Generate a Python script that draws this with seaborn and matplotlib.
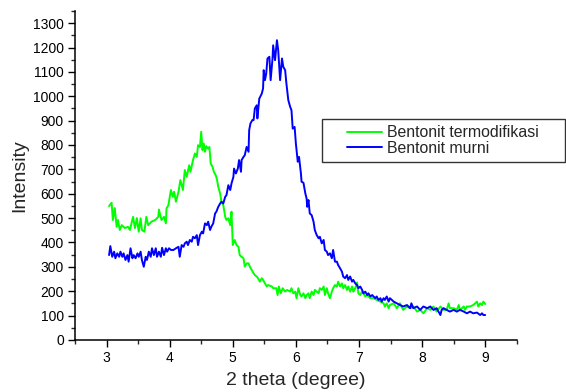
import pandas as pd
import matplotlib
matplotlib.use("Agg")
import matplotlib.pyplot as plt
from matplotlib.patches import Rectangle
from matplotlib.ticker import MultipleLocator
import seaborn as sns

# ---------------------------------------------------------
# Values
# ---------------------------------------------------------
termo_x = [3.04, 3.08, 3.10, 3.13, 3.16, 3.18, 3.21, 3.24, 3.29, 3.34, 3.37, 3.42, 3.45, 3.48,
           3.51, 3.54, 3.56, 3.60, 3.63, 3.66, 3.71, 3.77, 3.82, 3.83, 3.87, 3.91, 3.94, 3.95,
           3.98, 4.02, 4.05, 4.07, 4.10, 4.14, 4.17, 4.21, 4.24, 4.27, 4.31, 4.33, 4.37, 4.40,
           4.43, 4.45, 4.48, 4.50, 4.52, 4.54, 4.56, 4.58, 4.61, 4.63, 4.65, 4.68, 4.70, 4.73,
           4.75, 4.77, 4.80, 4.82, 4.85, 4.88, 4.90, 4.93, 4.96, 4.98, 5.00, 5.03, 5.06, 5.09,
           5.11, 5.14, 5.17, 5.19, 5.22, 5.25, 5.27, 5.30, 5.33, 5.35, 5.38, 5.40, 5.43, 5.46,
           5.48, 5.51, 5.54, 5.56, 5.62, 5.64, 5.69, 5.71, 5.73, 5.76, 5.79, 5.83, 5.86, 5.91,
           5.93, 5.96, 5.99, 6.01, 6.04, 6.07, 6.09, 6.12, 6.15, 6.17, 6.20, 6.22, 6.25, 6.28,
           6.30, 6.33, 6.36, 6.38, 6.41, 6.44, 6.46, 6.49, 6.51, 6.54, 6.57, 6.59, 6.62, 6.65,
           6.67, 6.70, 6.73, 6.75, 6.78, 6.81, 6.83, 6.86, 6.89, 6.91, 6.94, 6.97, 6.99, 7.02,
           7.05, 7.07, 7.10, 7.13, 7.18, 7.23, 7.28, 7.34, 7.39, 7.41, 7.44, 7.47, 7.49, 7.55,
           7.60, 7.65, 7.70, 7.76, 7.81, 7.86, 7.92, 7.97, 8.02, 8.08, 8.13, 8.18, 8.23, 8.29,
           8.34, 8.39, 8.42, 8.44, 8.50, 8.55, 8.58, 8.60, 8.66, 8.68, 8.71, 8.76, 8.81, 8.84,
           8.87, 8.89, 8.92, 8.95, 8.97, 9.00]
termo_y = [549, 563, 492, 541, 464, 492, 451, 471, 459, 464, 451, 505, 459, 500,
           444, 499, 451, 444, 505, 471, 485, 492, 505, 535, 492, 505, 478, 539,
           553, 615, 587, 608, 567, 608, 656, 615, 697, 669, 717, 690, 738, 765,
           751, 799, 792, 854, 779, 806, 772, 795, 785, 792, 724, 710, 690, 676,
           658, 628, 601, 567, 553, 505, 492, 499, 471, 526, 389, 410, 389, 382,
           348, 341, 335, 301, 314, 314, 301, 287, 273, 266, 260, 253, 239, 253,
           246, 232, 219, 225, 219, 212, 212, 184, 219, 191, 212, 198, 205, 198,
           212, 191, 198, 171, 212, 184, 178, 191, 171, 184, 191, 171, 198, 184,
           205, 198, 191, 212, 205, 219, 184, 212, 191, 171, 198, 212, 225, 219,
           239, 219, 232, 212, 225, 205, 219, 198, 219, 198, 212, 236, 191, 184,
           198, 191, 178, 184, 171, 171, 164, 157, 150, 137, 150, 130, 143, 150,
           130, 150, 123, 137, 130, 137, 116, 123, 109, 130, 123, 137, 116, 137,
           123, 123, 150, 130, 130, 123, 143, 123, 137, 123, 137, 137, 143, 150,
           157, 137, 150, 143, 157, 147]

murni_x = [3.04, 3.06, 3.09, 3.12, 3.14, 3.17, 3.20, 3.22, 3.25, 3.27, 3.30, 3.33, 3.35, 3.38,
           3.41, 3.43, 3.46, 3.49, 3.51, 3.54, 3.56, 3.59, 3.62, 3.64, 3.67, 3.70, 3.72, 3.75,
           3.78, 3.80, 3.83, 3.86, 3.88, 3.91, 3.94, 3.96, 3.99, 4.02, 4.06, 4.10, 4.14, 4.16,
           4.19, 4.22, 4.24, 4.27, 4.29, 4.32, 4.35, 4.37, 4.40, 4.43, 4.45, 4.48, 4.51, 4.53,
           4.56, 4.59, 4.61, 4.64, 4.66, 4.69, 4.72, 4.74, 4.77, 4.80, 4.82, 4.85, 4.88, 4.90,
           4.93, 4.96, 4.98, 5.01, 5.02, 5.05, 5.08, 5.10, 5.13, 5.14, 5.17, 5.19, 5.22, 5.25,
           5.26, 5.28, 5.31, 5.33, 5.35, 5.38, 5.39, 5.42, 5.46, 5.48, 5.49, 5.51, 5.53, 5.55,
           5.58, 5.60, 5.63, 5.64, 5.67, 5.70, 5.72, 5.75, 5.78, 5.80, 5.83, 5.85, 5.88, 5.91,
           5.93, 5.95, 5.98, 6.00, 6.03, 6.05, 6.08, 6.09, 6.12, 6.15, 6.17, 6.18, 6.20, 6.22,
           6.25, 6.28, 6.30, 6.33, 6.36, 6.38, 6.41, 6.44, 6.46, 6.49, 6.51, 6.54, 6.57, 6.59,
           6.62, 6.65, 6.67, 6.70, 6.73, 6.75, 6.78, 6.81, 6.83, 6.86, 6.89, 6.91, 6.94, 6.97,
           6.99, 7.02, 7.05, 7.07, 7.10, 7.13, 7.15, 7.18, 7.21, 7.23, 7.26, 7.28, 7.31, 7.34,
           7.36, 7.39, 7.41, 7.44, 7.47, 7.49, 7.55, 7.60, 7.65, 7.70, 7.76, 7.81, 7.83, 7.86,
           7.92, 7.97, 8.02, 8.08, 8.13, 8.18, 8.23, 8.29, 8.31, 8.34, 8.39, 8.44, 8.50, 8.55,
           8.60, 8.66, 8.71, 8.76, 8.81, 8.87, 8.92, 8.95, 8.97, 9.00]
murni_y = [348, 385, 341, 362, 335, 355, 341, 362, 341, 355, 328, 348, 321, 376,
           335, 348, 335, 355, 341, 362, 328, 300, 341, 328, 362, 341, 376, 348,
           376, 341, 362, 341, 378, 348, 376, 362, 376, 369, 369, 376, 382, 341,
           389, 382, 396, 403, 389, 410, 403, 423, 417, 430, 389, 430, 444, 437,
           478, 471, 485, 451, 464, 478, 519, 526, 546, 560, 567, 560, 587, 594,
           635, 615, 642, 669, 703, 683, 703, 738, 690, 738, 751, 758, 792, 772,
           861, 888, 902, 902, 950, 963, 909, 990, 1011, 1032, 1107, 1066, 1093, 1155,
           1162, 1066, 1155, 1209, 1148, 1230, 1189, 1066, 1155, 1121, 1107, 1052, 984, 956,
           943, 867, 874, 806, 731, 751, 683, 649, 645, 601, 580, 546, 574, 519,
           512, 485, 451, 430, 417, 423, 396, 410, 369, 362, 348, 355, 335, 369,
           321, 321, 307, 294, 280, 260, 253, 266, 246, 260, 239, 246, 232, 225,
           212, 219, 205, 191, 198, 184, 191, 178, 184, 178, 171, 178, 164, 171,
           157, 171, 164, 178, 157, 171, 157, 150, 143, 137, 143, 130, 150, 130,
           137, 123, 137, 130, 137, 123, 130, 102, 123, 130, 123, 116, 123, 116,
           123, 116, 109, 116, 109, 112, 102, 109, 102, 102]

series_names = ["Bentonit termodifikasi", "Bentonit murni"]
series_colors = ["#00FF00", "#0000FF"]

df = pd.concat([
    pd.DataFrame({"theta": termo_x, "intensity": termo_y, "sample": series_names[0]}),
    pd.DataFrame({"theta": murni_x, "intensity": murni_y, "sample": series_names[1]}),
])

# ---------------------------------------------------------
# Plot
# ---------------------------------------------------------
sns.set_style("ticks")
plt.rcParams["font.family"] = ["Liberation Sans", "DejaVu Sans"]

fig, ax = plt.subplots(figsize=(5.66, 3.92), dpi=100)
fig.subplots_adjust(left=0.1325, right=0.913, bottom=0.133, top=0.972)

sns.lineplot(data=df, x="theta", y="intensity", hue="sample", hue_order=series_names,
             palette=series_colors, linewidth=1.4, estimator=None, ax=ax)

ax.set_xlim(2.5, 9.5)
ax.set_ylim(0, 1350)
ax.xaxis.set_major_locator(MultipleLocator(1))
ax.xaxis.set_minor_locator(MultipleLocator(0.5))
ax.yaxis.set_major_locator(MultipleLocator(100))
ax.yaxis.set_minor_locator(MultipleLocator(50))
ax.set_xticks([3, 4, 5, 6, 7, 8, 9])
ax.tick_params(which="major", direction="out", length=5, width=1, labelsize=10,
               pad=3, colors="black")
ax.tick_params(which="minor", direction="out", length=3, width=1)
sns.despine(ax=ax)
for side in ["left", "bottom"]:
    ax.spines[side].set_linewidth(1.1)
    ax.spines[side].set_color("black")

ax.set_xlabel("2 theta (degree)", fontsize=14, labelpad=5)
ax.set_ylabel("Intensity", fontsize=14, labelpad=3)

# legend entries without their own frame, box drawn separately
handles, labels = ax.get_legend_handles_labels()
ax.legend(handles, labels, loc="center left",
          bbox_to_anchor=(0.613, 0.6416), bbox_transform=fig.transFigure,
          fontsize=11.4, frameon=False, handlelength=2.2, handletextpad=0.35,
          labelspacing=0.05, borderpad=0, borderaxespad=0)
fig.patches.append(Rectangle((322 / 566, 1 - 162 / 392), 242.5 / 566, 43 / 392,
                             transform=fig.transFigure, fill=False,
                             edgecolor="#333333", linewidth=1.0))

plt.savefig("out.png", dpi=100)
